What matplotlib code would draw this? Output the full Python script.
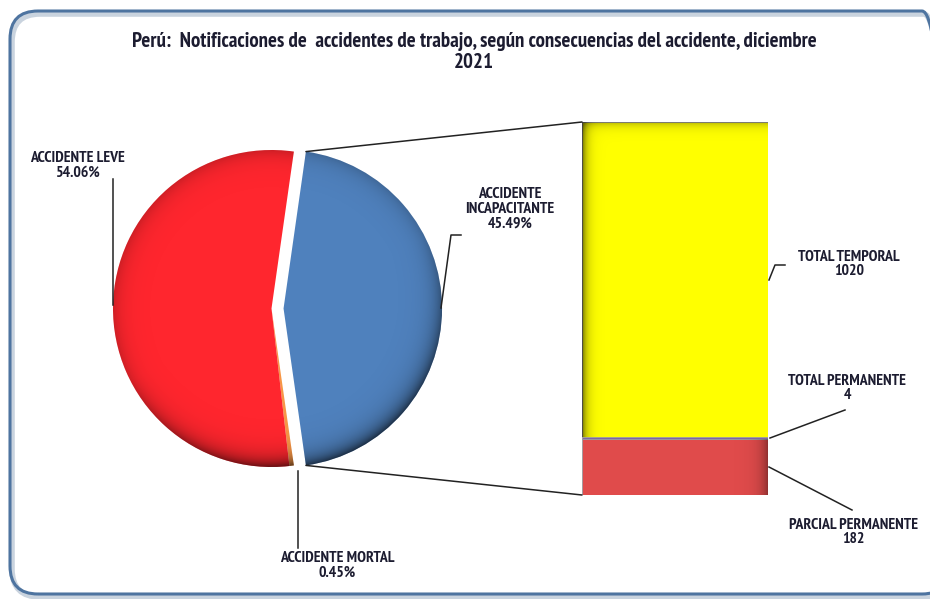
import numpy as np
import matplotlib
matplotlib.use("Agg")
import matplotlib.pyplot as plt
from matplotlib import font_manager
from matplotlib.patches import FancyBboxPatch, ConnectionPatch
from matplotlib.lines import Line2D
from matplotlib.transforms import IdentityTransform

# ---------------- data ----------------
title = "Perú:  Notificaciones de  accidentes de trabajo, según consecuencias del accidente, diciembre\n2021"
pie_labels = ["ACCIDENTE\nINCAPACITANTE", "ACCIDENTE MORTAL", "ACCIDENTE LEVE"]
pie_values = [45.49, 0.45, 54.06]
pie_colors = ["#4F81BD", "#F79646", "#FF262E"]
bar_labels = ["PARCIAL PERMANENTE", "TOTAL PERMANENTE", "TOTAL TEMPORAL"]
bar_values = [182, 4, 1020]
bar_colors = ["#E04B4B", "#8064A2", "#FFFF00"]

# ---------------- fonts ----------------
bold_fams = {f.name for f in font_manager.fontManager.ttflist
             if (f.weight if isinstance(f.weight, int) else 400) >= 700 or f.weight == "bold"}
fam = "Liberation Sans"
for cand in ["Liberation Sans Narrow", "Arial Narrow", "Archivo Narrow", "PT Sans Narrow",
             "Roboto Condensed", "Fira Sans Condensed", "Asap Condensed", "Encode Sans Condensed",
             "Barlow Condensed", "Sofia Sans Condensed", "IBM Plex Sans Condensed",
             "Open Sans Condensed"]:
    if cand in bold_fams:
        fam = cand
        break
plt.rcParams["font.family"] = [fam, "DejaVu Sans"]
TXT = "#1c1c30"

W, H = 930, 599
fig = plt.figure(figsize=(W / 100, H / 100), dpi=100)
fig.patch.set_facecolor("white")


def fx(x, y):
    return (x / W, 1 - y / H)


# ---------------- frame ----------------
shadow = FancyBboxPatch((12, H - 597), 940, 583, boxstyle="round,pad=0,rounding_size=28",
                        transform=IdentityTransform(), facecolor="none",
                        edgecolor="#c9d3de", linewidth=4, zorder=-2)
frame = FancyBboxPatch((10, H - 594), 940, 583, boxstyle="round,pad=0,rounding_size=28",
                       transform=IdentityTransform(), facecolor="none",
                       edgecolor="#4E74A0", linewidth=2.2, zorder=-1)
fig.patches.extend([shadow, frame])

# ---------------- title ----------------
fig.text(*fx(474, 52), title, ha="center", va="center", fontsize=15,
         fontweight="bold", color=TXT, linespacing=1.08)

# ---------------- pie ----------------
R_PX = 158.5
cx, cy = 271.5, 308.5
side = 2.5 * R_PX
axp = fig.add_axes([(cx - side / 2) / W, (H - cy - side / 2) / H, side / W, side / H])
total_pct = sum(pie_values)
start = pie_values[0] / total_pct * 360 / 2   # blue wedge centred on 0 deg
wedges, _ = axp.pie(pie_values, colors=pie_colors, startangle=start, counterclock=False,
                    explode=[0.076, 0, 0], radius=1,
                    wedgeprops=dict(linewidth=0, edgecolor="none"))

# inner shading (3-D look) clipped to each wedge
n = 400
g = np.linspace(-1.25, 1.25, n)
X, Y = np.meshgrid(g, g)
for w in wedges:
    c0 = np.array(w.center)
    dx, dy = X - c0[0], Y - c0[1]
    r = np.hypot(dx, dy) + 1e-9
    edge = np.exp(-np.clip(1 - r, 0, None) / 0.06)
    dirf = 0.3 + 0.7 * np.clip((dx * 0.45 - dy * 0.89) / r, 0, 1)
    alpha = np.clip(edge * dirf * 0.65, 0, 1)
    rgba = np.zeros((n, n, 4))
    rgba[..., 3] = alpha
    im = axp.imshow(rgba, extent=(-1.25, 1.25, -1.25, 1.25), origin="lower",
                    interpolation="bilinear", zorder=3)
    im.set_clip_path(w)
axp.set_xlim(-1.25, 1.25)
axp.set_ylim(-1.25, 1.25)
axp.set_aspect("equal")
axp.axis("off")

# ---------------- bar ----------------
axb = fig.add_axes([582 / W, (H - 495) / H, 186 / W, 373 / H])
bottom = 0
bars = []
for v, col in zip(bar_values, bar_colors):
    b = axb.bar(0, v, width=1, bottom=bottom, color=col, edgecolor="#9a9aa0", linewidth=0.6)
    bars.append(b[0])
    bottom += v
tot = sum(bar_values)
# soft inner shadows on the bar segments
xs = np.linspace(-0.5, 0.5, 200)
ys = np.linspace(0, tot, 200)
BX, BY = np.meshgrid(xs, ys)
sh_top = np.zeros((200, 200, 4))
a = np.exp(-(BX + 0.5) / 0.025) * 0.55 + np.exp(-(tot - BY) / (tot * 0.012)) * 0.3
sh_top[..., 3] = np.clip(a, 0, 0.6)
im = axb.imshow(sh_top, extent=(-0.5, 0.5, 0, tot), origin="lower", aspect="auto",
                interpolation="bilinear", zorder=3)
im.set_clip_path(bars[2])
sh_bot = np.zeros((200, 200, 4))
sh_bot[..., 3] = np.clip(np.exp(-(0.5 - BX) / 0.04) * 0.35, 0, 0.5)
im2 = axb.imshow(sh_bot, extent=(-0.5, 0.5, 0, tot), origin="lower", aspect="auto",
                 interpolation="bilinear", zorder=3)
im2.set_clip_path(bars[0])
axb.set_xlim(-0.5, 0.5)
axb.set_ylim(0, tot)
axb.axis("off")

# connectors from the exploded wedge to the bar
wb = wedges[0]
for ang, yb in [(wb.theta2, tot), (wb.theta1, 0)]:
    px = wb.center[0] + wb.r * np.cos(np.deg2rad(ang))
    py = wb.center[1] + wb.r * np.sin(np.deg2rad(ang))
    con = ConnectionPatch(xyA=(px, py), coordsA=axp.transData,
                          xyB=(-0.5, yb), coordsB=axb.transData,
                          color="#222222", linewidth=1.1)
    fig.add_artist(con)

# ---------------- labels & leader lines ----------------
def leader(pts):
    xs_ = [p[0] / W for p in pts]
    ys_ = [1 - p[1] / H for p in pts]
    fig.add_artist(Line2D(xs_, ys_, transform=fig.transFigure, color="#222222", linewidth=1.1))


def label(x, y, s):
    fig.text(*fx(x, y), s, ha="center", va="center", fontsize=11.3, fontweight="bold",
             color=TXT, linespacing=1.08)

lab_pos = {
    "ACCIDENTE LEVE": (77, 165),
    "ACCIDENTE\nINCAPACITANTE": (510, 209),
    "ACCIDENTE MORTAL": (337, 565),
}
for lab, v in zip(pie_labels, pie_values):
    x, y = lab_pos[lab]
    label(x, y, f"{lab}\n{v:.2f}%")

leader([(113, 305), (113, 179)])
leader([(441, 308), (451, 235), (461, 235)])
leader([(298, 471), (298, 548)])

bar_pos = {
    "TOTAL TEMPORAL": (849, 264),
    "TOTAL PERMANENTE": (847, 388),
    "PARCIAL PERMANENTE": (853, 532),
}
for lab, v in zip(bar_labels, bar_values):
    x, y = bar_pos[lab]
    label(x, y, f"{lab}\n{v}")

leader([(769, 280), (775, 265), (785, 265)])
leader([(770, 438), (845, 410)])
leader([(769, 467), (852, 510)])

fig.savefig("out.png", dpi=100)
